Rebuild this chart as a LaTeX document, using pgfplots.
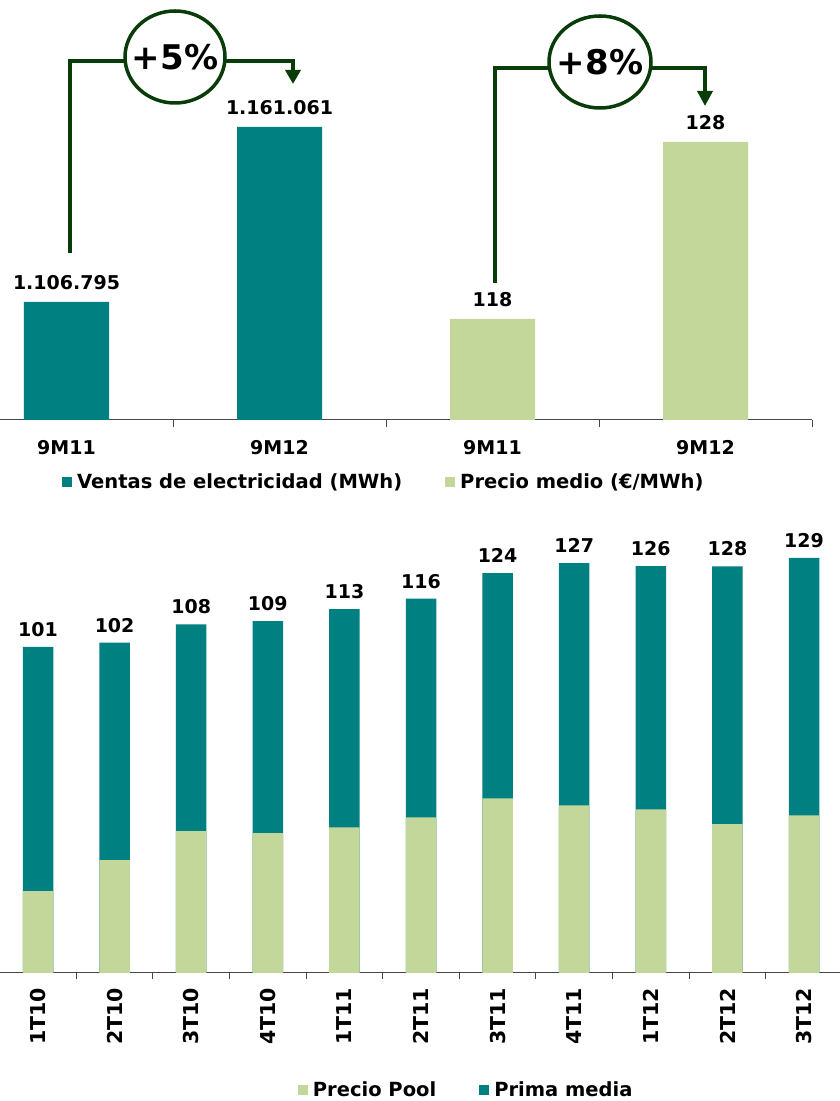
\documentclass[border=0pt]{standalone}
\usepackage{pgfplots}
\pgfplotsset{compat=1.18}
\usepackage{pgfplotstable}
\usepackage{fontspec}
\setmainfont{DejaVu Sans}
\usetikzlibrary{arrows.meta}

\definecolor{tealbar}{RGB}{0,128,128}
\definecolor{poolgreen}{RGB}{196,215,155}
\definecolor{dkgreen}{RGB}{10,60,10}
\definecolor{axisgray}{RGB}{70,70,70}

% top chart: ventas (MWh) and precio medio (EUR/MWh)
\pgfplotstableread{
x y label
0 1106795 1.106.795
1 1161061 1.161.061
}\ventas
\pgfplotstableread{
x y label
2 118 118
3 128 128
}\precio

% bottom chart: pool price and bar top (pool + prima), total as labelled
\pgfplotstableread{
x pool top total
0  25.4 101.2 101
1  35.0 102.5 102
2  44.0 108.2 108
3  43.4 109.2 109
4  45.2 112.9 113
5  48.3 116.2 116
6  54.2 124.1 124
7  52.0 127.2 127
8  50.8 126.3 126
9  46.2 126.2 128
10 48.9 128.8 129
}\trimestres

\tikzset{
  lbl/.style={font=\fontsize{19}{22}\selectfont\bfseries},
  leg/.style={font=\fontsize{19.5}{22}\selectfont\bfseries},
}
\pgfplotsset{
  sq/.style={legend image code/.code={\fill[##1, draw=none] (0pt,-5pt) rectangle (10pt,5pt);}},
  topaxis/.style={
    scale only axis, width=852pt, height=420pt,
    at={(-40pt,681pt)}, anchor=south west,
    xmin=-0.5, xmax=3.5, clip=false,
    ybar, bar width=85pt,
    nodes near coords, point meta=explicit symbolic,
    every node near coord/.append style={lbl, inner sep=0pt, anchor=south, yshift=12pt},
  },
}

\begin{document}
\begin{tikzpicture}[x=1pt,y=1pt]

% ventas axis, carries the baseline and the category labels
\begin{axis}[topaxis,
  ymin=1070204, ymax=1200442,
  axis x line*=bottom, hide y axis,
  x axis line style={-, axisgray, line width=1pt},
  xtick={0,1,2,3}, xticklabels={9M11,9M12,9M11,9M12},
  major tick length=0pt,
  minor xtick={0.5,1.5,2.5,3.5}, minor tick length=7pt,
  tick align=outside, minor tick style={axisgray, line width=1pt},
  xticklabel style={lbl, inner sep=0pt, yshift=-20pt},
]
\addplot[fill=tealbar, draw=none] table[x=x, y=y, meta=label] {\ventas};
\end{axis}

% precio axis, same frame, own scale
\begin{axis}[topaxis, hide axis,
  ymin=112.294, ymax=136.02,
  legend columns=2,
  legend style={draw=none, fill=none, inner sep=0pt, at={(0.1197,-0.1476)}, anchor=west,
    nodes={inner sep=0pt, leg},
    /tikz/every odd column/.append style={column sep=5pt},
    /tikz/every even column/.append style={column sep=43pt}},
]
\addlegendimage{sq, fill=tealbar, draw=none}
\addlegendentry{Ventas de electricidad (MWh)}
\addplot[fill=poolgreen, draw=none, sq] table[x=x, y=y, meta=label] {\precio};
\addlegendentry{Precio medio (€/MWh)}
\end{axis}

% growth call-outs
\draw[dkgreen, line width=3.5pt, line join=miter, -{Triangle[width=15pt,length=14pt]}]
  (70,848) -- (70,1040) -- (293,1040) -- (293,1017);
\draw[dkgreen, line width=3.5pt, fill=white] (175,1044) ellipse [x radius=50, y radius=46];
\node[font=\fontsize{34}{40}\selectfont\bfseries] at (175,1044) {+5\%};

\draw[dkgreen, line width=3.5pt, line join=miter, -{Triangle[width=15pt,length=15pt]}]
  (495,818) -- (495,1033) -- (705,1033) -- (705,995);
\draw[dkgreen, line width=3.5pt, fill=white] (600,1039) ellipse [x radius=51, y radius=46];
\node[font=\fontsize{34}{40}\selectfont\bfseries] at (600,1039) {+8\%};

% bottom chart: teal bar to the total, pool part drawn over it
\begin{axis}[
  scale only axis, width=842.6pt, height=467.2pt,
  at={(-0.3pt,128pt)}, anchor=south west,
  xmin=-0.5, xmax=10.5, ymin=0, ymax=145, clip=false,
  ybar, bar width=30.5pt,
  axis x line*=bottom, hide y axis,
  x axis line style={-, axisgray, line width=1pt},
  xtick={0,...,10},
  xticklabels={1T10,2T10,3T10,4T10,1T11,2T11,3T11,4T11,1T12,2T12,3T12},
  major tick length=0pt,
  minor xtick={0.5,1.5,...,9.5}, minor tick length=6pt,
  tick align=outside, minor tick style={axisgray, line width=1pt},
  xticklabel style={font=\fontsize{20.5}{24}\selectfont\bfseries, inner sep=0pt,
    yshift=-15pt, rotate=90, anchor=east},
  legend columns=2,
  legend style={draw=none, fill=none, inner sep=0pt, at={(0.3537,-0.2504)}, anchor=west,
    nodes={inner sep=0pt, leg},
    /tikz/every odd column/.append style={column sep=5pt},
    /tikz/every even column/.append style={column sep=43pt}},
]
\addlegendimage{sq, fill=poolgreen, draw=none}
\addlegendentry{Precio Pool}
\addlegendimage{sq, fill=tealbar, draw=none}
\addlegendentry{Prima media}
\addplot[fill=tealbar, draw=none, bar shift=0pt, forget plot,
  nodes near coords, point meta=explicit symbolic,
  every node near coord/.append style={lbl, inner sep=0pt, anchor=south, yshift=10pt}]
  table[x=x, y=top, meta=total] {\trimestres};
\addplot[fill=poolgreen, draw=none, bar shift=0pt, forget plot]
  table[x=x, y=pool] {\trimestres};
\end{axis}

\pgfresetboundingbox
\useasboundingbox (0,0) rectangle (839,1101);
\end{tikzpicture}
\end{document}
